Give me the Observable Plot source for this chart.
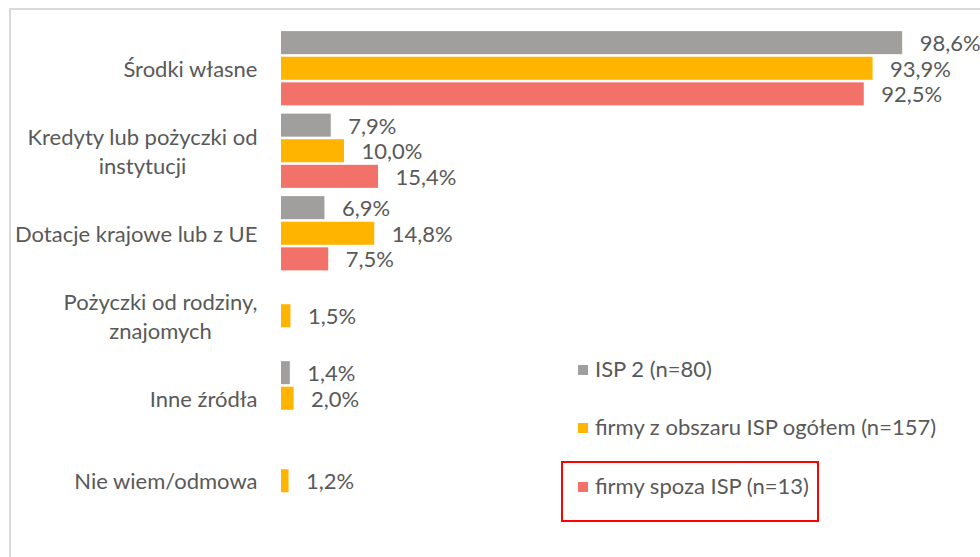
<!DOCTYPE html>
<html>
<head>
<meta charset="utf-8">
<script src="https://cdn.jsdelivr.net/npm/d3@7"></script>
<script src="https://cdn.jsdelivr.net/npm/@observablehq/plot@0.6"></script>
<style>
  html, body { margin: 0; padding: 0; background: #fff; }
  #wrap { position: relative; width: 980px; height: 557px; overflow: hidden; font-family: Lato, "Open Sans", sans-serif; }
  #frame { position: absolute; left: 9px; top: 8px; width: 1000px; height: 600px; border-left: 2px solid #d9d9d9; border-top: 2px solid #d9d9d9; box-sizing: border-box; }
  #chart { position: absolute; left: 0; top: 0; }
  .leg { position: absolute; left: 578px; font-size: 22px; color: #595959; white-space: nowrap; line-height: 1; }
  .leg .sw { position: absolute; left: 0; top: -5px; width: 10px; height: 10px; }
  .leg .lab { position: absolute; left: 17px; top: -12px; }
  #box { position: absolute; left: 561px; top: 461px; width: 258px; height: 61px; border: 2px solid #ff0000; box-sizing: border-box; }
</style>
</head>
<body>
<div id="wrap">
  <div id="frame"></div>
  <div id="chart"></div>
  <div id="legend"></div>
  <div id="box"></div>
</div>
<script>
const categories = [
  "Środki własne",
  "Kredyty lub pożyczki od\ninstytucji",
  "Dotacje krajowe lub z UE",
  "Pożyczki od rodziny,\nznajomych",
  "Inne źródła",
  "Nie wiem/odmowa"
];
const series = ["ISP 2 (n=80)", "firmy z obszaru ISP ogółem (n=157)", "firmy spoza ISP (n=13)"];
const colors = ["#a19f9d", "#ffb400", "#f2726a"];
const isp2 =    [98.6, 7.9, 6.9, null, 1.4, null];
const ogolem =  [93.9, 10.0, 14.8, 1.5, 2.0, 1.2];
const spoza =   [92.5, 15.4, 7.5, null, null, null];
const seriesValues = [isp2, ogolem, spoza];

const data = [];
categories.forEach((c, i) => {
  series.forEach((s, j) => {
    const v = seriesValues[j][i];
    if (v != null) data.push({category: c, series: s, value: v});
  });
});
const fmt = v => v.toFixed(1).replace(".", ",") + "%";
const textColor = "#595959";
const fontSize = 22;

const chart = Plot.plot({
  width: 980,
  height: 557,
  marginLeft: 281,
  marginRight: 69,
  marginTop: 27,
  marginBottom: 35,
  style: {fontFamily: "Lato, 'Open Sans', sans-serif", fontSize: fontSize + "px", color: textColor, background: "transparent"},
  x: {domain: [0, 100], axis: null},
  fy: {domain: categories, paddingInner: 0.1, paddingOuter: 0.05, axis: null, label: null, round: false},
  y: {domain: series, paddingInner: 0.1, paddingOuter: 0, axis: null, round: false},
  color: {domain: series, range: colors},
  marks: [
    Plot.barX(data, {x: "value", y: "series", fy: "category", fill: "series"}),
    Plot.text(data, {x: "value", y: "series", fy: "category", text: d => fmt(d.value), textAnchor: "start", dx: 17, dy: 1, fill: textColor, fontSize: fontSize}),
    Plot.text(categories, {fy: d => d, text: d => d, frameAnchor: "left", textAnchor: "end", dx: -24, dy: -1, fill: textColor, fontSize: fontSize, lineHeight: 1.3, className: "catlab"})
  ]
});
document.getElementById("chart").appendChild(chart);

// center multi-line category labels within their right-aligned block
chart.querySelectorAll(".catlab text").forEach(t => {
  const spans = t.querySelectorAll("tspan");
  if (spans.length > 1) {
    let maxW = 0;
    spans.forEach(s => { maxW = Math.max(maxW, s.getComputedTextLength()); });
    t.setAttribute("text-anchor", "middle");
    spans.forEach(s => s.setAttribute("x", -maxW / 2));
  }
});

const legendTop = [370, 428, 487];
const legend = document.getElementById("legend");
series.forEach((s, i) => {
  const d = document.createElement("div");
  d.className = "leg";
  d.style.top = legendTop[i] + "px";
  d.innerHTML = `<span class="sw" style="background:${colors[i]}"></span><span class="lab">${s}</span>`;
  legend.appendChild(d);
});
</script>
</body>
</html>
